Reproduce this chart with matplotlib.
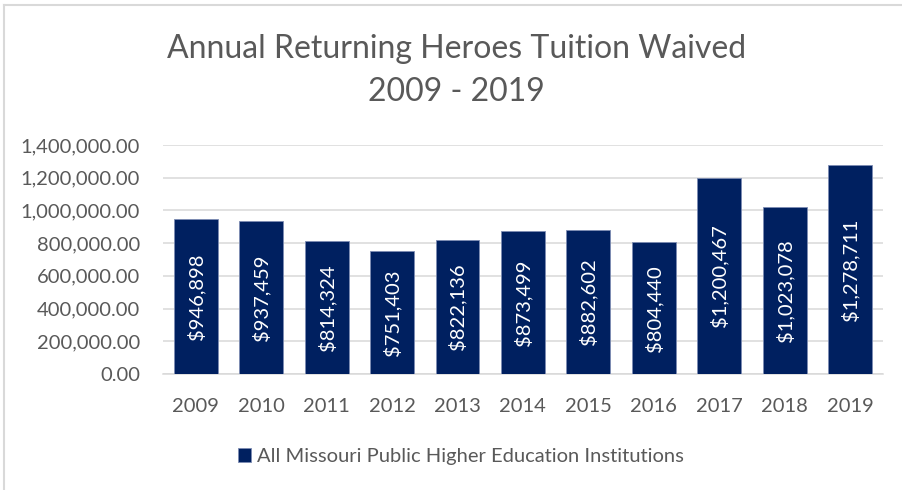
import matplotlib.pyplot as plt
from matplotlib.lines import Line2D
from matplotlib.ticker import FuncFormatter, MultipleLocator

years = ['2009', '2010', '2011', '2012', '2013', '2014', '2015', '2016', '2017', '2018', '2019']
waived = [946898, 937459, 814324, 751403, 822136, 873499, 882602, 804440, 1200467, 1023078, 1278711]
series_name = 'All Missouri Public Higher Education Institutions'

bar_color = '#002060'
text_color = '#595959'
plt.rcParams['font.family'] = ['Lato', 'DejaVu Sans']

fig = plt.figure(figsize=(9.02, 4.9), dpi=100)
ax = fig.add_axes([0.1807, 0.2367, 0.798, 0.4674])

x = range(len(years))
bars = ax.bar(x, waived, width=0.67, color=bar_color, edgecolor='#7d8cb3',
              linewidth=0.6, zorder=3, label=series_name)

# value labels inside bars
for xi, v in zip(x, waived):
    ax.text(xi, v / 2, '${:,.0f}'.format(v), rotation=90, ha='center', va='center',
            color='white', fontsize=14.5, zorder=4)

ax.set_xlim(-0.5, len(years) - 0.5)
ax.set_ylim(0, 1400000)
ax.yaxis.set_major_locator(MultipleLocator(200000))
ax.yaxis.set_major_formatter(FuncFormatter(lambda v, p: '{:,.2f}'.format(v)))
ax.set_xticks(list(x))
ax.set_xticklabels(years)
ax.grid(axis='y', color='#d9d9d9', linewidth=1.1, zorder=0)
ax.tick_params(axis='both', length=0, labelsize=14.5, colors=text_color)
ax.tick_params(axis='x', pad=17)
ax.tick_params(axis='y', pad=16.5)
for s in ['top', 'right', 'left']:
    ax.spines[s].set_visible(False)
ax.spines['bottom'].set_color('#d9d9d9')
ax.spines['bottom'].set_linewidth(1.1)

fig.text(0.506, 0.9, 'Annual Returning Heroes Tuition Waived', ha='center', va='center',
         fontsize=23, color=text_color)
fig.text(0.506, 0.812, '2009 - 2019', ha='center', va='center',
         fontsize=23, color=text_color)

leg = fig.legend(handles=[bars], loc='center', bbox_to_anchor=(0.511, 0.068),
                 frameon=False, fontsize=14.5, handlelength=0.65, handleheight=0.65,
                 handletextpad=0.3, labelcolor=text_color)

# chart frame (top and left edges visible)
fig.add_artist(Line2D([0.0045, 0.0045], [0, 0.99], transform=fig.transFigure,
                      color='#d9d9d9', linewidth=1.5))
fig.add_artist(Line2D([0.0045, 1], [0.99, 0.99], transform=fig.transFigure,
                      color='#d9d9d9', linewidth=1.5))

fig.savefig('out.png', dpi=100)
